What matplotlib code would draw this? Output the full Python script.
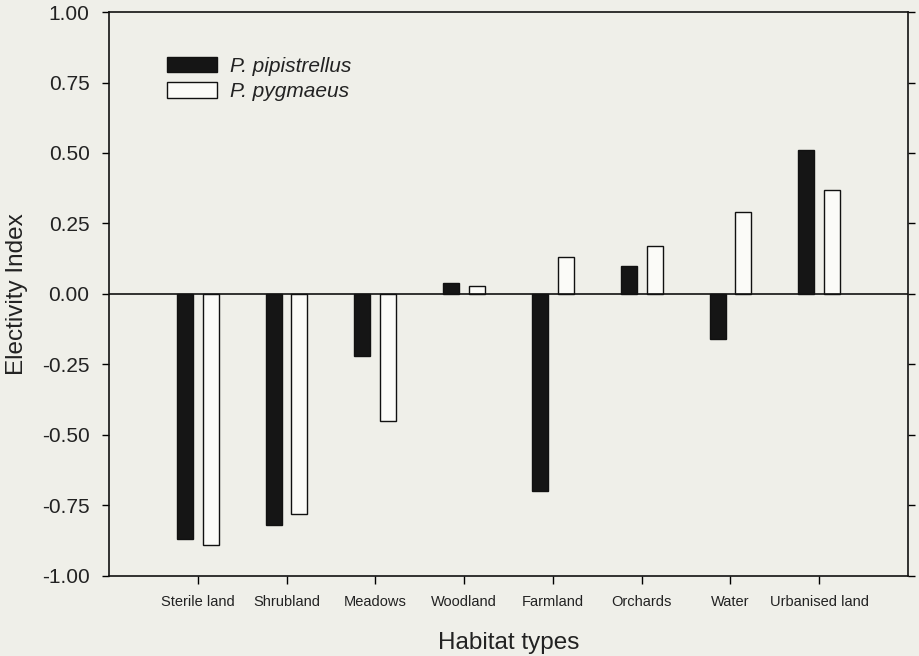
import numpy as np
import matplotlib
matplotlib.use("Agg")
import matplotlib.pyplot as plt

plt.rcParams['font.family'] = ['Liberation Sans', 'DejaVu Sans']

# Data
habitats = ['Sterile land', 'Shrubland', 'Meadows', 'Woodland',
            'Farmland', 'Orchards', 'Water', 'Urbanised land']
pipistrellus = [-0.87, -0.82, -0.22, 0.04, -0.70, 0.10, -0.16, 0.51]
pygmaeus = [-0.89, -0.78, -0.45, 0.03, 0.13, 0.17, 0.29, 0.37]
yticks = [-1.00, -0.75, -0.50, -0.25, 0.00, 0.25, 0.50, 0.75, 1.00]

bg = '#efefe9'
fig = plt.figure(figsize=(9.2, 6.56), dpi=100, facecolor=bg)
ax = fig.add_axes([0.1185, 0.122, 0.8685, 0.8597], facecolor=bg)

x = np.arange(1, len(habitats) + 1)
w = 0.18
ax.bar(x - 0.145, pipistrellus, w, color='#151515', edgecolor='#111111',
       linewidth=1, label='P. pipistrellus')
ax.bar(x + 0.145, pygmaeus, w, color='#fbfbf8', edgecolor='#111111',
       linewidth=1, label='P. pygmaeus')

# zero line
ax.axhline(0, color='#111111', linewidth=1.2)

ax.set_xlim(0, 9)
ax.set_ylim(-1, 1)
ax.set_xticks(x)
ax.set_xticklabels(habitats, fontsize=10.5, color='#222222')
ax.set_yticks(yticks)
ax.set_yticklabels(['%.2f' % v for v in yticks], fontsize=15, color='#222222')

ax.tick_params(axis='y', direction='out', length=5, width=1,
               right=True, left=True, pad=9)
ax.tick_params(axis='x', direction='out', length=6, width=1, pad=8)
for s in ax.spines.values():
    s.set_linewidth(1.2)
    s.set_color('#111111')

ax.set_xlabel('Habitat types', fontsize=17.5, color='#222222', labelpad=16)
ax.set_ylabel('Electivity Index', fontsize=17.5, color='#222222', labelpad=10)

leg = ax.legend(loc='upper left', bbox_to_anchor=(0.0726, 0.921),
                frameon=False, fontsize=15, handlelength=2.4,
                handleheight=0.8, handletextpad=0.6, labelspacing=0.28,
                borderpad=0, borderaxespad=0)
for t in leg.get_texts():
    t.set_fontstyle('italic')
    t.set_color('#222222')

fig.savefig('out.png', dpi=100, facecolor=bg)
